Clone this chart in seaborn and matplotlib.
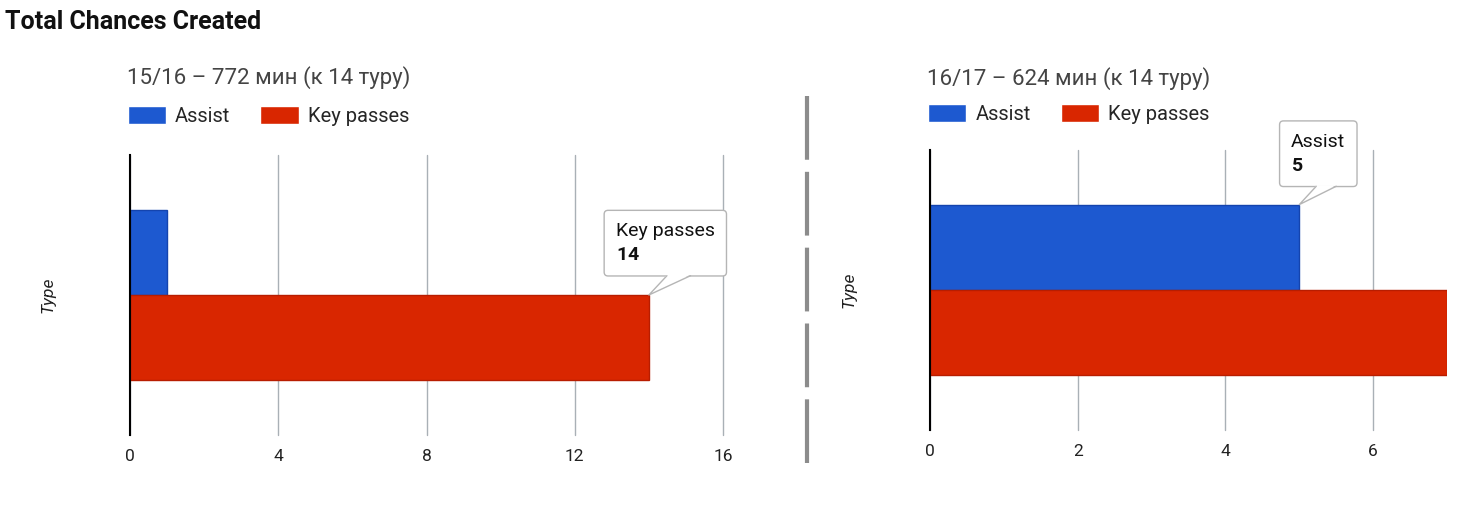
import pandas as pd
import matplotlib.pyplot as plt
import matplotlib.transforms as mtransforms
import seaborn as sns
from matplotlib.lines import Line2D
from matplotlib.patches import Polygon

# datos
titulo = 'Total Chances Created'
temporadas = ['15/16 – 772 мин (к 14 туру)', '16/17 – 624 мин (к 14 туру)']
tipos = ['Assist', 'Key passes']
asistencias = [1, 5]
pases_clave = [14, 7]
limites_x = [16, 7]
ticks_x = [[0, 4, 8, 12, 16], [0, 2, 4, 6]]
tooltip_tipo = ['Key passes', 'Assist']

AZUL = '#1d59d0'
ROJO = '#d92600'
BORDE = {'Assist': '#1444ae', 'Key passes': '#b81d00'}
GRIS_TIP = '#b5b5b5'

sns.set_style('white')
plt.rcParams['font.family'] = ['Roboto', 'DejaVu Sans']
plt.rcParams['mathtext.fontset'] = 'custom'
plt.rcParams['mathtext.bf'] = 'Roboto:bold'
plt.rcParams['mathtext.rm'] = 'Roboto'

W, H = 1460, 505
fig = plt.figure(figsize=(W / 100, H / 100), dpi=100)

# posiciones de los ejes en píxeles: (izq, abajo, ancho, alto)
cajas = [(130, 70, 593, 280), (930, 75, 517, 280)]
label_x = [-0.126, -0.143]
titulo_y = [1.275, 1.257]
leyenda_y = [1.14, 1.128]
# desplazamiento del texto del tooltip y de la base del piquito (en puntos)
tooltip_off = [(-23.8, 22.1), (-5.8, 21.4)]
piquito = [(13, 30, 13.9), (12.2, 26.6, 13.2)]


def dibujar_panel(ax, i):
    df = pd.DataFrame({
        'Type': ['', ''],
        'Series': tipos,
        'value': [asistencias[i], pases_clave[i]],
    })
    sns.barplot(data=df, x='value', y='Type', hue='Series', orient='h',
                palette=[AZUL, ROJO], saturation=1, width=0.61, ax=ax,
                linewidth=1)
    for cont, t in zip(ax.containers, tipos):
        for bar in cont:
            bar.set_edgecolor(BORDE[t])

    ax.set_xlim(0, limites_x[i])
    ax.set_xticks(ticks_x[i])
    ax.set_yticks([])
    ax.set_xlabel('')
    ax.set_axisbelow(True)
    ax.grid(axis='x', color='#a9b0b6', linewidth=1)
    ax.grid(axis='y', visible=False)
    for g in ax.xaxis.get_gridlines():
        g.set_clip_on(False)
    for s in ['top', 'right', 'bottom']:
        ax.spines[s].set_visible(False)
    ax.spines['left'].set_color('black')
    ax.spines['left'].set_linewidth(1.5)
    ax.spines['left'].set_zorder(4)
    ax.tick_params(axis='x', length=0, pad=10, labelsize=12.5, labelcolor='#222222')

    ax.set_ylabel('Type', style='italic', fontsize=12.5, color='#222222')
    ax.yaxis.set_label_coords(label_x[i], 0.5)

    ax.text(-0.005, titulo_y[i], temporadas[i], transform=ax.transAxes,
            fontsize=16, color='#444444', va='center', ha='left')

    handles, labels = ax.get_legend_handles_labels()
    ax.legend(handles, labels, loc='center left', bbox_to_anchor=(-0.004, leyenda_y[i]),
              ncol=2, frameon=False, fontsize=14.5, borderpad=0, borderaxespad=0,
              handlelength=1.9, handleheight=1.0, handletextpad=0.45,
              columnspacing=1.5)

    # tooltip
    idx = tipos.index(tooltip_tipo[i])
    bar = ax.containers[idx][0]
    xr = bar.get_x() + bar.get_width()
    ytop = min(bar.get_y(), bar.get_y() + bar.get_height())
    valor = [asistencias, pases_clave][idx][i]
    dx, dy = tooltip_off[i]
    ax.annotate(tooltip_tipo[i] + '\n' + r'$\mathbf{' + str(valor) + '}$',
                xy=(xr, ytop), xytext=(dx, dy),
                textcoords='offset points', ha='left', va='bottom',
                fontsize=14, color='#111111', linespacing=1.45,
                bbox=dict(boxstyle='round,pad=0.6,rounding_size=0.2',
                          fc='white', ec=GRIS_TIP, lw=1),
                annotation_clip=False, zorder=5)

    # piquito del tooltip, en puntos respecto a la esquina de la barra
    tr = (mtransforms.Affine2D().scale(1 / 72) + fig.dpi_scale_trans
          + mtransforms.ScaledTranslation(xr, ytop, ax.transData))
    b0, b1, h = piquito[i]
    fig.add_artist(Polygon([(0, 0), (b0, h + 0.8), (b1, h + 0.8)], closed=True,
                           transform=tr, fc='white', ec='none', zorder=6))
    fig.add_artist(Line2D([b0, 0, b1], [h, 0, h], transform=tr,
                          color=GRIS_TIP, lw=1, zorder=7))


for i, (l, b, w, h) in enumerate(cajas):
    ax = fig.add_axes([l / W, b / H, w / W, h / H])
    dibujar_panel(ax, i)

fig.text(5 / W, 1 - 22 / H, titulo, fontsize=18, fontweight='bold',
         color='#111111', va='center', ha='left')

sep = Line2D([807 / W, 807 / W], [1 - 96 / H, 1 - 463 / H], transform=fig.transFigure,
             color='#8c8c8c', lw=3, dashes=(15.3, 2.9))
fig.add_artist(sep)

fig.savefig('out.png', dpi=100)
plt.close()
